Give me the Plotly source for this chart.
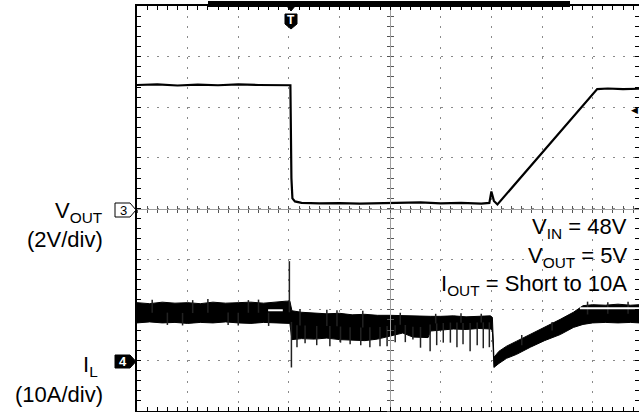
import numpy as np
import plotly.graph_objects as go

# ---------------- data (time in scope divisions) ----------------
# V_OUT trace (volts), channel 3, 2 V/div
vout_t = [0.0, 0.4, 0.8, 1.2, 1.6, 2.0, 2.4, 2.8, 3.03, 3.05, 3.07, 3.12, 3.25, 3.6, 4.0,
          4.4, 4.8, 5.2, 5.6, 6.0, 6.4, 6.8, 6.96, 7.0, 7.05, 7.12, 9.09, 9.3, 9.6, 9.92]
vout_v = [4.88, 4.90, 4.86, 4.89, 4.87, 4.90, 4.88, 4.89, 4.87, 1.2, 0.40, 0.28, 0.22, 0.20, 0.21,
          0.19, 0.20, 0.22, 0.24, 0.20, 0.22, 0.19, 0.22, 0.67, 0.30, 0.16, 4.72, 4.74, 4.72, 4.73]

# I_L envelope (amps), channel 4, 10 A/div
il_t = [0.0, 0.25, 0.5, 0.75, 1.0, 1.25, 1.5, 1.75, 2.0, 2.25, 2.5, 2.75, 2.95, 3.02,
        3.06, 3.25, 3.5, 3.75, 4.0, 4.25, 4.5, 4.75, 5.0, 5.25, 5.45, 5.75, 5.8, 6.0, 6.25,
        6.5, 6.75, 6.98, 7.02, 7.05, 7.15, 7.3, 7.5, 7.77, 8.05, 8.36, 8.62, 8.81, 9.0,
        9.25, 9.5, 9.75, 9.92]
il_hi = [11.4, 11.2, 11.5, 11.3, 11.4, 11.2, 11.5, 11.3, 11.4, 11.5, 11.3, 11.6, 11.7, 11.7,
         9.8, 9.5, 9.4, 9.2, 9.3, 9.0, 9.1, 8.9, 8.9, 8.8, 8.7, 8.6, 8.7, 8.7, 8.8,
         8.6, 8.7, 8.8, 8.5, 0.6, 1.8, 2.8, 3.8, 5.1, 6.6, 8.1, 9.5, 10.8, 11.0,
         10.9, 11.1, 10.9, 11.0]
il_lo = [7.4, 7.6, 7.4, 7.5, 7.3, 7.5, 7.4, 7.6, 7.4, 7.3, 7.5, 7.4, 7.3, 7.3,
         4.1, 4.3, 4.2, 4.4, 4.1, 4.0, 3.9, 4.2, 4.8, 5.4, 4.6, 4.5, 5.8, 6.0, 6.2,
         6.1, 6.3, 6.2, 6.0, -1.4, -0.6, 0.4, 1.2, 2.6, 3.9, 5.1, 6.5, 7.1, 7.4,
         7.5, 7.4, 7.5, 7.4]

# I_L spikes: time and tip current (amps)
spike_t = [0.3, 0.6, 0.9, 1.1, 1.4, 1.8, 2.0, 2.2, 2.4, 2.6,
           3.01, 3.05,
           3.16, 3.22, 3.32, 3.55, 3.75, 3.81, 3.95, 4.02, 4.21, 4.42, 4.46, 4.60, 4.80, 4.94,
           5.10, 5.20, 5.30, 5.45, 5.60, 5.79, 5.90, 5.92, 6.05, 6.19, 6.32, 6.40, 6.44,
           6.58, 6.72, 6.80, 6.84, 6.96,
           7.6, 8.2, 8.9, 9.3, 9.7]
spike_a = [12.0, 7.0, 6.9, 11.9, 12.1, 7.0, 6.9, 11.9, 12.0, 6.8,
           19.6, -1.4,
           2.6, 10.1, 3.4, 3.0, 10.0, 2.8, 9.9, 3.5, 3.2, 3.0, 9.8, 2.6, 2.8, 2.8,
           3.6, 9.4, 3.6, 4.1, 2.5, 1.8, 9.2, 3.0, 3.5, 3.5, 2.6, 9.3, 3.2,
           1.8, 3.0, 9.2, 2.4, 2.6,
           5.0, 7.6, 11.6, 11.5, 11.6]

# white reference dashes inside the I_L band
refdash_t0 = [2.59, 8.75]
refdash_t1 = [2.88, 9.92]
refdash_a = [9.9, 10.3]

VOUT_PER_DIV, VOUT_ZERO = 2.0, 4.0
IL_PER_DIV, IL_ZERO = 10.0, 1.0
XMAX = 9.916


def v2d(v):
    return VOUT_ZERO + np.asarray(v, dtype=float) / VOUT_PER_DIV


def a2d(a):
    return IL_ZERO + np.asarray(a, dtype=float) / IL_PER_DIV


fig = go.Figure()

# I_L band
fig.add_trace(go.Scatter(x=il_t, y=a2d(il_lo), mode='lines',
                         line=dict(color='black', width=1), hoverinfo='skip'))
fig.add_trace(go.Scatter(x=il_t, y=a2d(il_hi), mode='lines', fill='tonexty',
                         fillcolor='black', line=dict(color='black', width=1), hoverinfo='skip'))

# I_L spikes
mid = (np.array(il_hi) + np.array(il_lo)) / 2
sx, sy = [], []
for t, a in zip(spike_t, spike_a):
    base = np.interp(t, il_t, mid)
    sx += [t, t, None]
    sy += [float(a2d(base)), float(a2d(a)), None]
fig.add_trace(go.Scatter(x=sx, y=sy, mode='lines', line=dict(color='#222', width=1.5),
                         hoverinfo='skip'))

# white reference dashes
for t0, t1, a in zip(refdash_t0, refdash_t1, refdash_a):
    fig.add_trace(go.Scatter(x=[t0, t1], y=[float(a2d(a))] * 2, mode='lines',
                             line=dict(color='white', width=2), hoverinfo='skip'))

# V_OUT
fig.add_trace(go.Scatter(x=vout_t, y=v2d(vout_v), mode='lines',
                         line=dict(color='black', width=2.2), hoverinfo='skip'))

# dummy traces for center-cross axes
for xa, ya in [('x2', 'y'), ('x3', 'y'), ('x', 'y2'), ('x', 'y3')]:
    fig.add_trace(go.Scatter(x=[None], y=[None], xaxis=xa, yaxis=ya, showlegend=False,
                             hoverinfo='skip'))

grid_style = dict(showgrid=True, gridcolor='#8a8a8a', gridwidth=1, griddash='2px,8.125px',
                  dtick=1, tick0=0, showticklabels=False, zeroline=False,
                  showline=True, linecolor='black', linewidth=2, mirror='ticks',
                  ticks='inside', ticklen=4, tickcolor='black', tickwidth=1,
                  minor=dict(dtick=0.2, ticks='inside', ticklen=4, tickcolor='black',
                             showgrid=False))

cross_x = dict(overlaying='x', anchor='free', position=0.5, range=[0, XMAX],
               showgrid=False, zeroline=False, showticklabels=False, showline=True,
               linecolor='#a0a0a0', linewidth=1, dtick=0.2, tick0=0, ticklen=3,
               tickcolor='#555', tickwidth=1)
cross_y = dict(overlaying='y', anchor='free', position=5 / XMAX, range=[0, 8],
               showgrid=False, zeroline=False, showticklabels=False, showline=True,
               linecolor='#a0a0a0', linewidth=1, dtick=0.2, tick0=0, ticklen=3,
               tickcolor='#555', tickwidth=1)

fig.update_layout(
    width=639, height=412,
    margin=dict(l=137, r=0, t=6, b=1, autoexpand=False),
    paper_bgcolor='white', plot_bgcolor='white',
    showlegend=False,
    font=dict(family='Liberation Sans, Arial, sans-serif', color='black'),
    xaxis=dict(range=[0, XMAX], **grid_style),
    yaxis=dict(range=[0, 8], **grid_style),
    xaxis2=dict(ticks='outside', **cross_x),
    xaxis3=dict(ticks='inside', **cross_x),
    yaxis2=dict(ticks='outside', **cross_y),
    yaxis3=dict(ticks='inside', **cross_y),
)


def px(xp):
    return (xp - 137) / 502.0


def py(yp):
    return (411 - yp) / 405.0


def poly(points):
    return 'M ' + ' L '.join(f'{px(a):.5f},{py(b):.5f}' for a, b in points) + ' Z'


# top record bar
fig.add_shape(type='rect', xref='paper', yref='paper', x0=px(208), x1=px(570),
              y0=py(7), y1=py(1), fillcolor='black', line=dict(width=0), layer='above')
# channel marker bodies
fig.add_shape(type='path', xref='paper', yref='paper', layer='above',
              path=poly([(115, 203), (130, 203), (136, 210), (130, 217), (115, 217)]),
              fillcolor='white', line=dict(color='black', width=1))
fig.add_shape(type='path', xref='paper', yref='paper', layer='above',
              path=poly([(115, 355), (130, 355), (136, 361.5), (130, 368), (115, 368)]),
              fillcolor='black', line=dict(color='black', width=1))
# trigger marker body
fig.add_shape(type='path', xref='paper', yref='paper', layer='above',
              path=poly([(286, 5), (296, 5), (291, 11)]),
              fillcolor='black', line=dict(color='black', width=1))
fig.add_shape(type='path', xref='paper', yref='paper', layer='above',
              path=poly([(285, 14), (297, 14), (297, 24), (291, 29), (285, 24)]),
              fillcolor='black', line=dict(color='black', width=1))

ann = []
FS = 22
ann.append(dict(text='V<sub>OUT</sub>', x=px(105), y=py(212), xanchor='right', yanchor='middle',
                font=dict(size=FS)))
ann.append(dict(text='(2V/div)', x=px(105), y=py(240), xanchor='right', yanchor='middle',
                font=dict(size=FS)))
ann.append(dict(text='I<sub>L</sub>', x=px(100), y=py(366), xanchor='right', yanchor='middle',
                font=dict(size=FS)))
ann.append(dict(text='(10A/div)', x=px(105), y=py(394), xanchor='right', yanchor='middle',
                font=dict(size=FS)))
ann.append(dict(text='V<sub>IN</sub> = 48V', x=px(629), y=py(228), xanchor='right',
                yanchor='middle', font=dict(size=FS)))
ann.append(dict(text='V<sub>OUT</sub> = 5V', x=px(629), y=py(257), xanchor='right',
                yanchor='middle', font=dict(size=FS)))
ann.append(dict(text='I<sub>OUT</sub> = Short to 10A', x=px(629), y=py(285), xanchor='right',
                yanchor='middle', font=dict(size=FS)))
# channel marker digits
ann.append(dict(text='3', x=px(123), y=py(210), xanchor='center', yanchor='middle',
                font=dict(size=13)))
ann.append(dict(text='<b>4</b>', x=px(123), y=py(361.5), xanchor='center', yanchor='middle',
                font=dict(size=13, color='white')))
# trigger marker letter
ann.append(dict(text='<b>T</b>', x=px(291), y=py(20.5), xanchor='center', yanchor='middle',
                font=dict(size=12, color='white')))
# right level marker
ann.append(dict(text='◀', x=px(634), y=py(110), xanchor='center', yanchor='middle',
                font=dict(size=9)))
for a in ann:
    a.update(xref='paper', yref='paper', showarrow=False)
fig.update_layout(annotations=ann)

fig.write_html('out.html', config={'displayModeBar': False},
               post_script="document.body.style.margin='0px';document.body.style.overflow='hidden';")
